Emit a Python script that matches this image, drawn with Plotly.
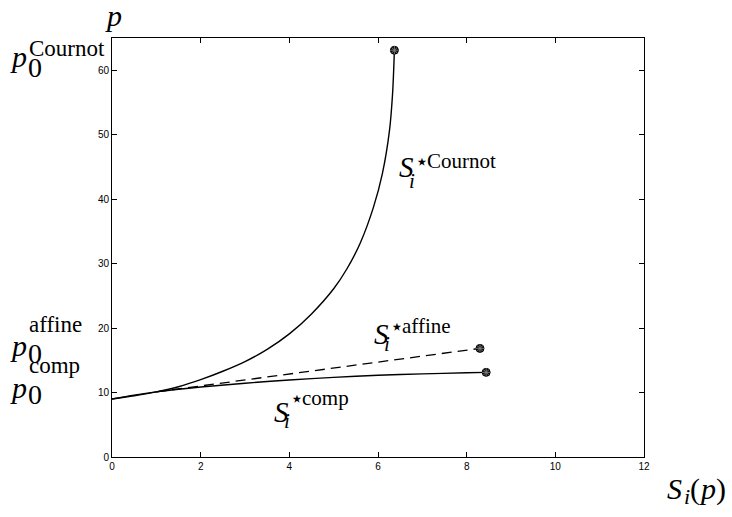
import plotly.graph_objects as go

# ---- data ----
cournot_S = [0.0, 0.5, 1.0, 1.5, 2.0, 2.5, 3.0, 3.5, 4.0, 4.5, 5.0, 5.3, 5.6, 5.9, 6.1, 6.26, 6.33, 6.37]
cournot_p = [9.0, 9.5, 10.1, 10.9, 12.0, 13.3, 14.8, 16.7, 19.1, 22.2, 26.1, 29.2, 33.2, 38.8, 44.0, 50.7, 56.5, 63.1]

comp_S = [0.0, 0.5, 1.0, 1.5, 2.0, 3.0, 4.0, 5.0, 6.0, 7.0, 8.0, 8.44]
comp_p = [9.0, 9.6, 10.1, 10.5, 10.85, 11.45, 11.95, 12.35, 12.68, 12.9, 13.06, 13.13]

affine_S = [1.0, 8.3]
affine_p = [10.1, 16.85]

end_S = [6.37, 8.3, 8.44]
end_p = [63.1, 16.85, 13.13]

x_ticks = [0, 2, 4, 6, 8, 10, 12]
y_ticks = [0, 10, 20, 30, 40, 50, 60]

# ---- layout geometry (pixels) ----
W, H = 732, 517
L, R, T, B = 112, 644, 38, 457

def px(x):
    return (x - L) / (R - L)

def py(y):
    return (B - y) / (B - T)

fig = go.Figure()
black = "#000000"
fig.add_trace(go.Scatter(x=cournot_S, y=cournot_p, mode="lines", line=dict(color=black, width=1.4, shape="spline", smoothing=0.8), hoverinfo="skip"))
fig.add_trace(go.Scatter(x=comp_S, y=comp_p, mode="lines", line=dict(color=black, width=1.4, shape="spline", smoothing=0.8), hoverinfo="skip"))
fig.add_trace(go.Scatter(x=affine_S, y=affine_p, mode="lines", line=dict(color=black, width=1.3, dash="10px,6px"), hoverinfo="skip"))
fig.add_trace(go.Scatter(x=end_S, y=end_p, mode="markers", marker=dict(symbol="circle", size=8, color="#111111", line=dict(color=black, width=1)), hoverinfo="skip"))
fig.add_trace(go.Scatter(x=end_S, y=end_p, mode="markers", marker=dict(symbol="asterisk-open", size=7, color="#888888", line=dict(color="#888888", width=0.8)), hoverinfo="skip"))

SERIF = "Liberation Serif"
anns = []

def txt(s, left, baseline, size, italic=False, anchor="left", family=SERIF):
    t = f"<i>{s}</i>" if italic else s
    anns.append(dict(text=t, x=px(left), y=py(baseline - 0.28 * size), xref="paper", yref="paper",
                     xanchor=anchor, yanchor="middle", showarrow=False,
                     font=dict(family=family, size=size, color=black)))

# axis names
txt("p", 113, 24, 30, italic=True, anchor="center")
txt("S", 665, 497, 30, italic=True)
txt("i", 682, 503, 22, italic=True)
txt("(", 688, 497, 30)
txt("p", 697, 497, 30, italic=True)
txt(")", 714, 497, 30)

# p0 labels
for (pb, zb, sb, sup) in [(65, 75, 55, "Cournot"), (354, 361, 331, "affine"), (396, 402, 372, "comp")]:
    txt("p", 8, pb, 30, italic=True)
    txt("0", 26, zb, 28)
    txt(sup, 27, sb, 23)

# curve labels
for (sx, sb, ib, stb, sup) in [(397, 175, 187, 167, "Cournot"), (372, 342, 350, 332, "affine"), (272, 420, 427, 404, "comp")]:
    txt("S", sx, sb, 29, italic=True)
    txt("i", sx + 10, ib, 21, italic=True)
    txt("\u22c6", sx + 16, stb + 1, 22, family="DejaVu Sans")
    txt(sup, sx + 28, stb, 21)

axis_common = dict(showline=True, linecolor=black, linewidth=1, mirror="allticks", ticks="inside",
                   ticklen=5, tickcolor=black, tickwidth=1, showgrid=False, zeroline=False,
                   tickfont=dict(family="Liberation Sans", size=10, color=black))

fig.update_layout(
    width=W, height=H, margin=dict(l=L, r=W - R, t=T, b=H - B),
    paper_bgcolor="white", plot_bgcolor="white", showlegend=False,
    xaxis=dict(range=[0, 12], tickvals=x_ticks, ticktext=[str(v) for v in x_ticks], **axis_common),
    yaxis=dict(range=[0, 65], tickvals=y_ticks, ticktext=[str(v) for v in y_ticks], **axis_common),
    annotations=anns,
)

fig.write_html("out.html")
